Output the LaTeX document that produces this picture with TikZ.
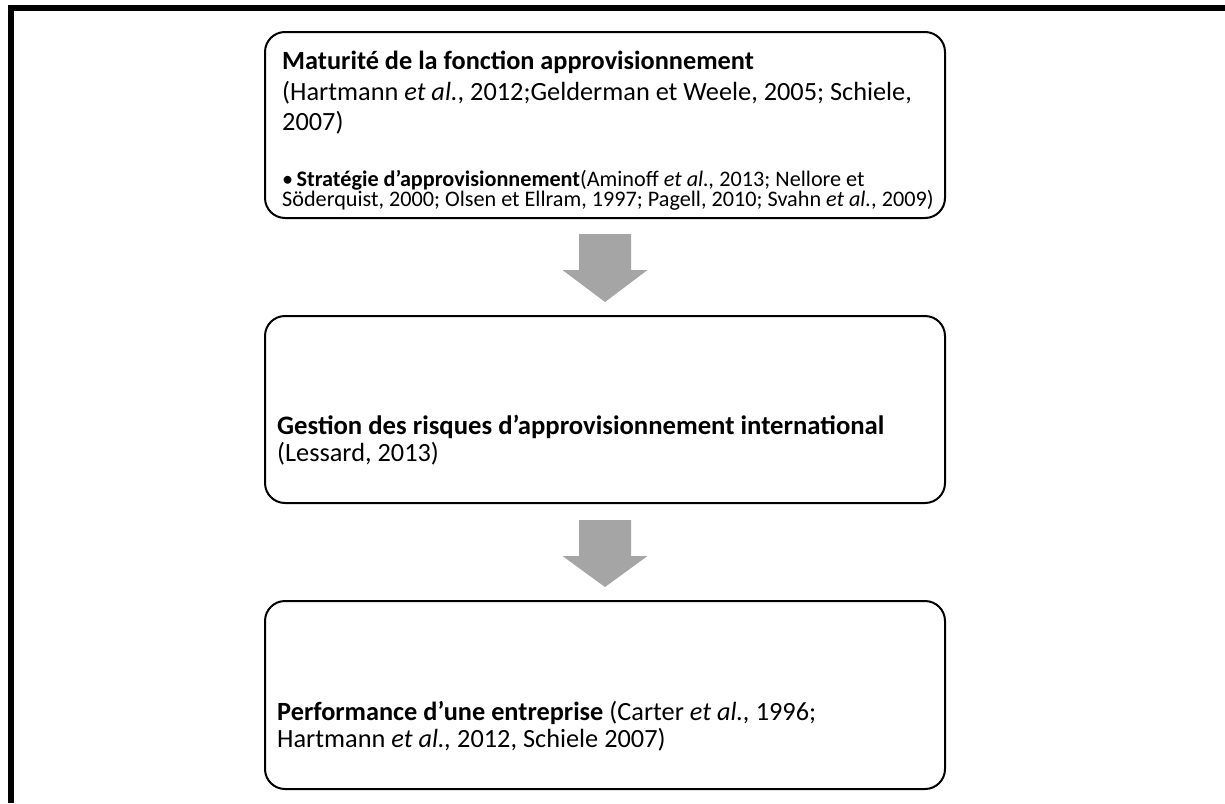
\documentclass[tikz,border=0pt]{standalone}
\usepackage{fontspec}
\setmainfont{Carlito}
\usetikzlibrary{calc}
\definecolor{arrowgray}{HTML}{A5A5A5}
\tikzset{
  box/.style={draw=black, line width=2pt, rounded corners=20pt,
    minimum width=680pt, inner sep=0pt},
  bigline/.style={inner sep=0pt, anchor=base west,
    font=\fontsize{26.3}{31}\selectfont},
  smallline/.style={inner sep=0pt, anchor=base west,
    font=\fontsize{22.2}{26}\selectfont},
  downarrow/.style={fill=arrowgray, draw=none},
  frameline/.style={line width=6pt, line join=miter}
}
% block arrow pointing down, between two named coordinates
\newcommand\blockdown[2]{%
  \fill[downarrow] ($(#1)+(-26,0)$) -- ($(#1)+(26,0)$) -- ($(#1)+(26,36)$)
    -- ($(#1)+(42.5,36)$) -- (#2) -- ($(#1)+(-42.5,36)$) -- ($(#1)+(-26,36)$) -- cycle;}
\begin{document}
\begin{tikzpicture}[x=1pt,y=-1pt]
\useasboundingbox (0,0) rectangle (1225,803);
\fill[white] (0,0) rectangle (1225,803);
\draw[frameline] (10.5,803) -- (10.5,8) -- (1225,8);

% the three stages
\node[box, minimum height=186pt] (b1) at (605,125) {};
\node[box, minimum height=187pt] (b2) at (605,409.5) {};
\node[box, minimum height=188pt] (b3) at (605,695) {};

% stage 1
\node[bigline] (t1a) at ($(b1.north west)+(18,38.5)$) {\textbf{Maturité de la fonction approvisionnement}};
\node[bigline] (t1b) at ($(b1.north west)+(18,69)$) {(Hartmann \textit{et al.}, 2012;Gelderman et Weele, 2005; Schiele,};
\node[bigline] (t1c) at ($(b1.north west)+(18,99)$) {2007)};
\node[smallline] (t1d) at ($(b1.north west)+(18,155)$) {•\hspace{0.15em}\textbf{Stratégie d’approvisionnement}(Aminoff \textit{et al.,} 2013; Nellore et};
\node[smallline] (t1e) at ($(b1.north west)+(18,175.5)$) {Söderquist, 2000; Olsen et Ellram, 1997; Pagell, 2010; Svahn \textit{et al.}, 2009)};

% stage 2
\node[bigline, font=\fontsize{26.7}{31}\selectfont] (t2a) at ($(b2.north west)+(13,119)$) {\textbf{Gestion des risques d’approvisionnement international}};
\node[bigline] (t2b) at ($(b2.north west)+(13,146)$) {(Lessard, 2013)};

% stage 3
\node[bigline] (t3a) at ($(b3.north west)+(13,120)$) {\textbf{Performance d’une entreprise} (Carter \textit{et al.,} 1996;};
\node[bigline] (t3b) at ($(b3.north west)+(13,147)$) {Hartmann \textit{et al.,} 2012, Schiele 2007)};

% arrows between stages
\coordinate (a1s) at ($(b1.south)+(0,15)$);
\coordinate (a1e) at ($(b2.north)+(0,-13)$);
\coordinate (a2s) at ($(b2.south)+(0,16)$);
\coordinate (a2e) at ($(b3.north)+(0,-13)$);
\blockdown{a1s}{a1e}
\blockdown{a2s}{a2e}
\end{tikzpicture}
\end{document}
